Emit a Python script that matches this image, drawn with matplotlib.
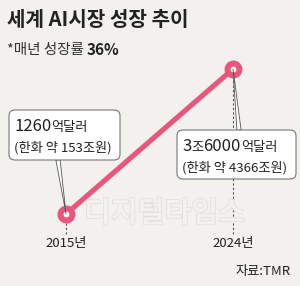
import matplotlib
matplotlib.use("Agg")
import matplotlib.pyplot as plt
from matplotlib.patches import FancyBboxPatch
import matplotlib.patheffects as pe

plt.rcParams['font.family'] = ['Noto Sans CJK KR', 'DejaVu Sans']

years = [2015, 2024]
values = [1260, 36000]          # 억달러
year_labels = ["2015년", "2024년"]
label_runs = [
    [("1260", 12), ("억달러", 9.5)],
    [("3", 12), ("조", 9.5), ("6000", 12), ("억달러", 9.5)],
]
krw_labels = ["(한화 약 153조원)", "(한화 약 4366조원)"]

bg = "#f3f1ed"
pink = "#e9557d"

fig = plt.figure(figsize=(3, 2.86), dpi=100, facecolor=bg)
ax = fig.add_axes([0, 0, 1, 1])
ax.set_facecolor(bg)
ax.set_xlim(2011.44, 2027.61)
ax.set_ylim(-15990, 52532)
ax.axis("off")

# watermark
fig.text(0.28, 0.255, "디지털타임스", fontsize=21, fontweight="bold", color=bg,
         va="center", ha="left",
         path_effects=[pe.withStroke(linewidth=1.0, foreground="#e0deda")], zorder=0)

# dashed guides
ax.vlines(years, -3500, values, colors="#555555", linestyles=(0, (2, 2)), lw=0.8, zorder=1)

ax.plot(years, values, color=pink, lw=3.7, zorder=3, solid_capstyle="butt")
ax.plot(years, values, "o", ms=8.6, mfc="white", mec=pink, mew=4.3, zorder=4)

for x, lab in zip(years, year_labels):
    fig.text(ax.transData.transform((x, 0))[0] / 300, 1 - 243 / 286, lab,
             fontsize=9.5, ha="center", va="center", color="#222222")

fig.text(0.97, 1 - 272 / 286, "자료:TMR", fontsize=9.5, ha="right", va="center", color="#222222")

# title
fig.text(7 / 300, 1 - 20 / 286, "세계 AI시장 성장 추이", fontsize=14.5, fontweight="bold",
         ha="left", va="center", color="#222222")
t1 = fig.text(7 / 300, 1 - 50 / 286, "*매년 성장률 ", fontsize=10.5, ha="left", va="center",
              color="#333333")

fig.canvas.draw()
r = fig.canvas.get_renderer()
bb = t1.get_window_extent(r)
fig.text(bb.x1 / 300, 1 - 50 / 286, "36%", fontsize=11, fontweight="bold",
         ha="left", va="center", color="#222222")

# callout boxes (pixel layout: left, top, right, bottom; wedge base)
boxes = [(9, 110, 120, 160, (58, 160)), (177, 130, 296, 179, (239, 130))]
for i, (l, t, rr, b, base) in enumerate(boxes):
    ax.annotate("", xy=(years[i], values[i]), xytext=(base[0], 286 - base[1]),
                textcoords="figure pixels",
                arrowprops=dict(arrowstyle="wedge,tail_width=0.3,shrink_factor=0.5",
                                fc="white", ec="#555555", lw=0.6, shrinkA=0, shrinkB=0),
                zorder=5)
    box = FancyBboxPatch((l / 300, 1 - b / 286), (rr - l) / 300, (b - t) / 286,
                         boxstyle="round,pad=0,rounding_size=0.02",
                         transform=fig.transFigure, fc="white", ec="#777777", lw=0.8,
                         zorder=6)
    fig.patches.append(box)
    x = (l + 5)
    y1 = 286 - (t + 21)
    for s, fs in label_runs[i]:
        tx = fig.text(x / 300, y1 / 286, s, fontsize=fs, ha="left", va="baseline",
                      color="#222222", zorder=7)
        fig.canvas.draw()
        x = tx.get_window_extent(fig.canvas.get_renderer()).x1
    fig.text((l + 5) / 300, (286 - (t + 42)) / 286, krw_labels[i], fontsize=9.5,
             ha="left", va="baseline", color="#222222", zorder=7)

fig.savefig("out.png", dpi=100, facecolor=bg)
